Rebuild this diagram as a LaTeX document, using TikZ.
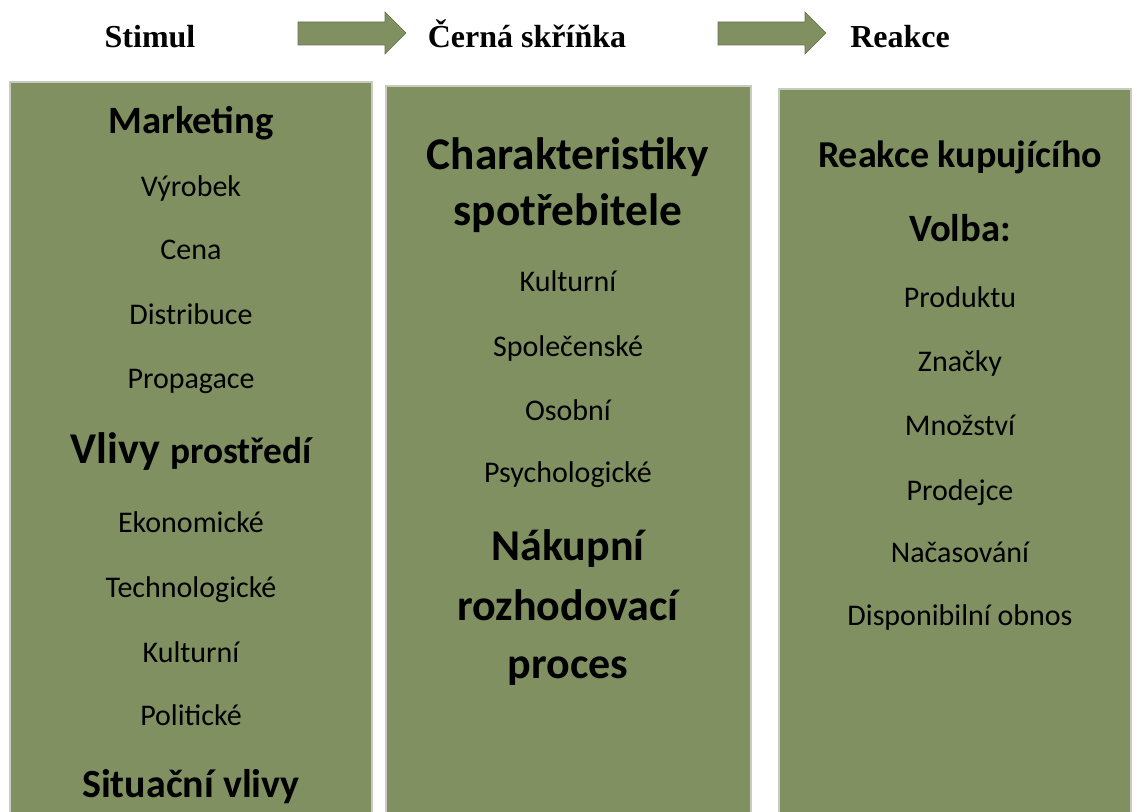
\documentclass[tikz,border=0pt]{standalone}
\usepackage{fontspec}
\setmainfont{Liberation Serif}
\newfontfamily\calibri{Carlito}
\usepackage{tikz}
\definecolor{panelgreen}{RGB}{128,144,97}
\definecolor{panelline}{RGB}{200,204,190}

\begin{document}
\begin{tikzpicture}[x=0.75pt,y=-0.75pt]
    \tikzset{panel/.style={fill=panelgreen,draw=panelline,line width=0.8pt}}
    \tikzset{blockarrow/.style={fill=panelgreen,draw=panelgreen!80!black,line width=0.4pt}}
    \tikzset{toplabel/.style={font=\bfseries\fontsize{24}{28}\selectfont,anchor=base,inner sep=0pt}}
    \tikzset{itemtext/.style={font=\calibri\fontsize{22.5}{27}\selectfont,anchor=base,inner sep=0pt}}
    \tikzset{headtext/.style={font=\calibri\bfseries\fontsize{#1}{#1}\selectfont,anchor=base,inner sep=0pt}}

    \useasboundingbox (0,0) rectangle (1137,812);

    % Top row
    \node[toplabel] (stimul) at (150,48) {Stimul};
    \node[toplabel] (blackbox) at (527,48) {Černá skříňka};
    \node[toplabel] (reakce) at (900,48) {Reakce};
    \draw[blockarrow] (298,22) -- (385,22) -- (385,12) -- (406,33) -- (385,54) -- (385,45) -- (298,45) -- cycle;
    \draw[blockarrow] (718,22) -- (805,22) -- (805,12) -- (826,33) -- (805,54) -- (805,45) -- (718,45) -- cycle;

    % Panels
    \draw[panel] (10,82) rectangle (372,813);
    \draw[panel] (386,86) rectangle (751,813);
    \draw[panel] (779,89) rectangle (1131,813);

    % Stimul
    \node[headtext=29] (marketing) at (191,134) {Marketing};
    \node[itemtext] (vyrobek) at (191,197) {Výrobek};
    \node[itemtext] (cena) at (191,260) {Cena};
    \node[itemtext] (distribuce) at (191,325) {Distribuce};
    \node[itemtext] (propagace) at (191,388) {Propagace};
    \node[headtext=33] (vlivy) at (191,463) {Vlivy {\fontsize{28}{28}\selectfont prostředí}};
    \node[itemtext] (ekonomicke) at (191,532) {Ekonomické};
    \node[itemtext] (technologicke) at (191,597) {Technologické};
    \node[itemtext] (kulturniA) at (191,662) {Kulturní};
    \node[itemtext] (politicke) at (191,725) {Politické};
    \node[headtext=30] (situacni) at (191,797) {Situační vlivy};

    % Cerna skrinka
    \node[headtext=34] (charakter) at (568,170) {Charakteristiky};
    \node[headtext=34] (spotrebitel) at (568,226) {spotřebitele};
    \node[itemtext] (kulturniB) at (568,292) {Kulturní};
    \node[itemtext] (spolecenske) at (568,357) {Společenské};
    \node[itemtext] (osobni) at (568,420) {Osobní};
    \node[itemtext] (psycho) at (568,482) {Psychologické};
    \node[headtext=33] (nakupni) at (568,560) {Nákupní};
    \node[headtext=33] (rozhod) at (568,620) {rozhodovací};
    \node[headtext=33] (proces) at (568,678) {proces};

    % Reakce
    \node[headtext=28.5] (kupujici) at (960,168) {Reakce kupujícího};
    \node[headtext=29] (volba) at (960,242) {Volba:};
    \node[itemtext] (produktu) at (960,308) {Produktu};
    \node[itemtext] (znacky) at (960,372) {Značky};
    \node[itemtext] (mnozstvi) at (960,435) {Množství};
    \node[itemtext] (prodejce) at (960,500) {Prodejce};
    \node[itemtext] (nacasovani) at (960,562) {Načasování};
    \node[itemtext] (obnos) at (960,625) {Disponibilní obnos};
  \end{tikzpicture}
\end{document}
